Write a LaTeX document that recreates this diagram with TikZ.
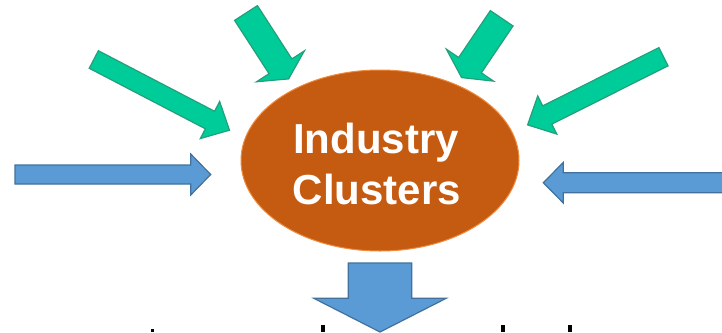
\documentclass[tikz,border=0pt]{standalone}
\usepackage{fontspec}
\setmainfont{Liberation Sans}
\usetikzlibrary{calc,shapes.geometric}
\definecolor{gfill}{HTML}{00CC99}
\definecolor{gline}{HTML}{23A07A}
\definecolor{bfill}{HTML}{5B9BD5}
\definecolor{bline}{HTML}{41719C}
\definecolor{efill}{HTML}{C55A11}
\definecolor{eline}{HTML}{F08A3C}
\tikzset{
  greenarrow/.style={fill=gfill,draw=gline,line width=1.2pt,line join=miter},
  bluearrow/.style={fill=bfill,draw=bline,line width=1.2pt,line join=miter},
  cluster/.style={ellipse,fill=efill,draw=eline,line width=1pt,inner sep=0pt},
  lbl/.style={text=white,font=\fontsize{42}{50}\selectfont\bfseries,inner sep=0pt,anchor=base},
  frag/.style={fill=black,draw=none}
}
% #1 style, #2 tail, #3 tip, #4 shaft half width, #5 head half width, #6 head length
\newcommand\fatarrow[6]{%
  \coordinate (fab) at ($(#3)!#6!(#2)$);
  \path[#1] ($(#2)!#4!90:(#3)$) -- ($(fab)!#4!-90:(#2)$) -- ($(fab)!#5!-90:(#2)$)
    -- (#3) -- ($(fab)!#5!90:(#2)$) -- ($(fab)!#4!90:(#2)$) -- ($(#2)!#4!-90:(#3)$) -- cycle;
}
\begin{document}
\begin{tikzpicture}[x=1pt,y=-1pt]
\useasboundingbox (0,0) rectangle (722,332);
\clip (0,0) rectangle (722,332);
\fill[white] (0,0) rectangle (722,332);
% ellipse
\node[cluster,minimum width=278pt,minimum height=181pt] (ic) at (380,160.5) {};
\node[lbl] (t1) at (376,153) {Industry};
\node[lbl] (t2) at (377,204) {Clusters};
% coordinates
\coordinate (g1a) at (246,13);    \coordinate (g1b) at (288.6,78.9);
\coordinate (g2a) at (93.8,59.5); \coordinate (g2b) at (229.5,130.2);
\coordinate (g3a) at (501.7,18.3); \coordinate (g3b) at (461.6,77.6);
\coordinate (g4a) at (663.5,56.7); \coordinate (g4b) at (527.6,124.9);
\coordinate (b1a) at (15,174.5);  \coordinate (b1b) at (210.7,174.5);
\coordinate (b2a) at (745,182.7); \coordinate (b2b) at (543.3,182.7);
\coordinate (b3a) at (380,263);   \coordinate (b3b) at (380,332);
% green arrows
\fatarrow{greenarrow}{g1a}{g1b}{13.6pt}{28.5pt}{15pt}
\fatarrow{greenarrow}{g2a}{g2b}{9.9pt}{20.9pt}{22pt}
\fatarrow{greenarrow}{g3a}{g3b}{13.7pt}{28.5pt}{15pt}
\fatarrow{greenarrow}{g4a}{g4b}{10.2pt}{21.3pt}{22pt}
% blue arrows
\fatarrow{bluearrow}{b1a}{b1b}{9.5pt}{20.5pt}{20pt}
\fatarrow{bluearrow}{b2a}{b2b}{10pt}{20.3pt}{20pt}
\fatarrow{bluearrow}{b3a}{b3b}{31.7pt}{66.2pt}{33.7pt}
% fragments of cut-off text at the bottom edge
\path[frag] (150.5,328.5) rectangle (153.5,332);
\path[frag] (321,324.5) rectangle (325,332);
\path[frag] (501,324.5) rectangle (505,332);
\path[frag] (568,324.5) rectangle (572,332);
\end{tikzpicture}
\end{document}
